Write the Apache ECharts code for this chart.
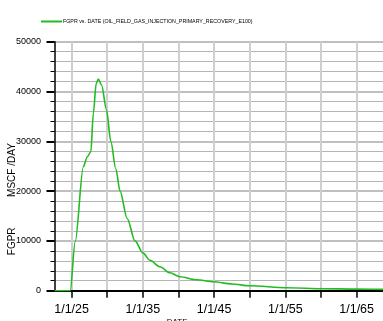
<!DOCTYPE html>
<html>
<head>
<meta charset="utf-8">
<script src="https://cdn.jsdelivr.net/npm/echarts@6/dist/echarts.min.js"></script>
<style>
html,body{margin:0;padding:0;background:#fff;}
#chart{width:383px;height:321px;}
</style>
</head>
<body>
<div id="chart"></div>
<script>
var seriesName = 'FGPR vs. DATE (OIL_FIELD_GAS_INJECTION_PRIMARY_RECOVERY_E100)';
var years = [1922.6, 1924.8, 1925.5, 1926.65, 1927.2, 1927.7, 1928.05, 1928.45, 1928.75, 1929.2, 1929.9, 1930.5, 1931.2, 1931.8, 1932.8, 1933.9, 1935.0, 1936.0, 1937.4, 1938.8, 1940.2, 1942.5, 1944.9, 1947.5, 1950.0, 1955.2, 1960.3, 1965.0, 1970.2];
var fgpr = [0, 0, 9840, 24900, 26900, 27900, 35600, 41600, 42500, 41300, 36300, 30000, 24500, 20000, 14500, 10000, 7600, 6100, 4800, 3600, 2800, 2200, 1800, 1350, 1000, 600, 400, 320, 250];
var yTicks = [0, 10000, 20000, 30000, 40000, 50000];
var xStart = 1922.6, xEnd = 1970.2, xStep = 0.2;
var gridYears = [1925, 1930, 1935, 1940, 1945, 1950, 1955, 1960, 1965, 1970];
var xLabelYears = [1925, 1935, 1945, 1955, 1965];

var font = "'Liberation Sans', Arial, sans-serif";
var data = years.map(function (y, i) { return [y, fgpr[i]]; });

// category positions along the date axis (for ticks, grid lines, labels)
var xCats = [];
for (var k = 0; k <= Math.round((xEnd - xStart) / xStep); k++) {
  xCats.push((xStart + k * xStep).toFixed(1));
}
function isYear(val, list) {
  var v = parseFloat(val);
  for (var i = 0; i < list.length; i++) if (Math.abs(v - list[i]) < 1e-6) return true;
  return false;
}

var chart = echarts.init(document.getElementById('chart'));
chart.setOption({
  animation: false,
  backgroundColor: '#fff',
  grid: { left: 54.5, top: 41.7, bottom: 30.3, right: -10.7, containLabel: false, outerBoundsMode: 'none' },
  legend: {
    left: 36, top: 14,
    icon: 'rect', itemWidth: 21, itemHeight: 2, itemGap: 0,
    textStyle: { fontFamily: font, fontSize: 5.3, color: '#000', padding: [0, 0, 0, -4] },
    data: [seriesName]
  },
  xAxis: [{
    type: 'value',
    min: xStart, max: xEnd,
    show: false
  }, {
    type: 'category',
    data: xCats,
    boundaryGap: false,
    position: 'bottom',
    name: 'DATE', nameLocation: 'middle', nameGap: 27, nameMoveOverlap: false,
    nameTextStyle: { fontFamily: font, fontSize: 8, color: '#000', verticalAlign: 'top', padding: [0, 94, 0, 0] },
    axisLine: { show: true, onZero: false, lineStyle: { color: '#000', width: 2 } },
    axisTick: {
      show: true, length: 7, lineStyle: { color: '#000', width: 1.5 },
      interval: function (i, v) { return isYear(v, gridYears); }
    },
    axisLabel: {
      margin: 12, fontFamily: font, fontSize: 12.5, color: '#000',
      interval: function (i, v) { return isYear(v, xLabelYears); },
      formatter: function (v) { return '1/1/' + String(Math.round(parseFloat(v)) % 100).padStart(2, '0'); }
    },
    splitLine: {
      show: true, lineStyle: { color: '#cfcfcf', width: 2 },
      interval: function (i, v) { return isYear(v, gridYears); }
    }
  }],
  yAxis: {
    type: 'value',
    min: yTicks[0], max: yTicks[yTicks.length - 1], interval: 10000,
    name: 'FGPR           MSCF /DAY', nameLocation: 'middle', nameGap: 37, nameMoveOverlap: false,
    nameTextStyle: { fontFamily: font, fontSize: 10, color: '#000', padding: [0, 66, 0, 0] },
    axisLine: { show: true, lineStyle: { color: '#000', width: 1.5 } },
    axisTick: { show: true, length: 8, lineStyle: { color: '#000', width: 2 } },
    minorTick: { show: true, splitNumber: 5, length: 4, lineStyle: { color: '#000', width: 1 } },
    axisLabel: { margin: 13.5, fontFamily: font, fontSize: 9, color: '#000', formatter: function (v) { return String(v); } },
    splitLine: { show: true, lineStyle: { color: '#aaaaaa', width: 1.5 } },
    minorSplitLine: { show: true, lineStyle: { color: '#b4b4b4', width: 1.2 } }
  },
  series: [{
    name: seriesName,
    type: 'line',
    xAxisIndex: 0,
    data: data,
    showSymbol: false,
    smooth: 0.3,
    smoothMonotone: 'x',
    lineStyle: { color: '#22bb22', width: 1.6 },
    itemStyle: { color: '#22bb22' },
    z: 5
  }]
});
</script>
</body>
</html>
